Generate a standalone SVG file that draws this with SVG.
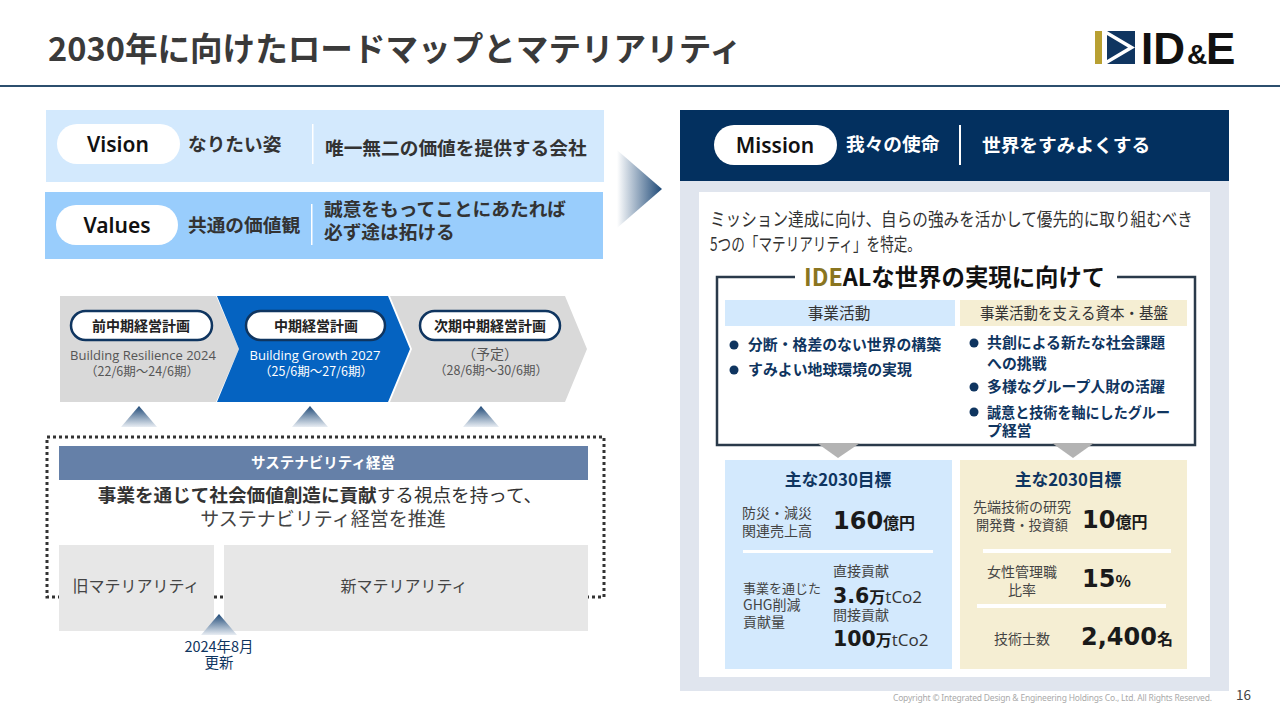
<svg xmlns="http://www.w3.org/2000/svg" width="1280" height="720" viewBox="0 0 1280 720">
<defs>
<linearGradient id="gArrow" x1="0" y1="0" x2="1" y2="0"><stop offset="0" stop-color="#ffffff"/><stop offset="1" stop-color="#1f4a78"/></linearGradient>
<linearGradient id="gUp" x1="0" y1="0" x2="0" y2="1"><stop offset="0" stop-color="#1f4a78"/><stop offset="1" stop-color="#e8edf3"/></linearGradient>
<polygon id="upTri" points="0,0 18,21 -18,21" fill="url(#gUp)"/>
</defs>
<style>
text{font-family:"Noto Sans CJK JP","Noto Sans",sans-serif;fill:#333;}
.lat{font-family:"Open Sans","Noto Sans CJK JP",sans-serif;}
.b{font-weight:700;}
.m{text-anchor:middle;}
.pill{font-family:"Noto Sans","Noto Sans CJK JP",sans-serif;font-weight:600;font-size:21px;fill:#111;text-anchor:middle;}
.h{font-weight:700;font-size:18.700px;}
.chev{font-weight:700;font-size:14px;fill:#222;text-anchor:middle;}
.sub{font-size:12.500px;fill:#555;text-anchor:middle;}
.bul{font-weight:700;font-size:14.900px;fill:#0f3560;}
.num{font-family:"DejaVu Sans","Noto Sans CJK JP",sans-serif;font-weight:700;font-size:24px;fill:#1a1a1a;}
.u{font-family:"Noto Sans CJK JP",sans-serif;font-weight:700;font-size:16px;fill:#1a1a1a;}
.lab{font-size:14px;fill:#444;}
.co{font-family:"Open Sans","Noto Sans CJK JP",sans-serif;font-weight:400;font-size:17px;fill:#333;}
</style>
<rect width="1280" height="720" fill="#fff"/>
<g id="title">
<text class="b" x="48" y="61" font-size="32.600" style="fill:#3a3a3a">2030年に向けたロードマップとマテリアリティ</text>
<rect x="0" y="85" width="1280" height="2" fill="#2c4f6e"/>
</g>
<g id="logo">
<rect x="1095" y="31" width="7" height="33" fill="#b8a032"/>
<rect x="1107" y="31" width="28" height="33" fill="#0f3560"/>
<polygon points="1107,31 1135,47.500 1107,64 1107,60 1128,47.500 1107,35" fill="#fff"/>
<text x="1141" y="64" font-size="44" style="font-family:'Liberation Sans',sans-serif;font-weight:700;fill:#111">ID</text>
<text x="1187" y="64" font-size="28" style="font-family:'Liberation Sans',sans-serif;font-weight:700;fill:#111">&amp;</text>
<text x="1206" y="64" font-size="44" style="font-family:'Liberation Sans',sans-serif;font-weight:700;fill:#111">E</text>
</g>
<g id="vision">
<rect x="46" y="110" width="558" height="72" fill="#d3e9fd"/>
<rect x="57" y="124" width="123" height="40" rx="20" fill="#fff"/>
<text class="pill" x="118" y="152">Vision</text>
<text class="h" x="188" y="151">なりたい姿</text>
<rect x="312" y="124" width="1.500" height="40" fill="#fff"/>
<text class="h" x="325" y="155">唯一無二の価値を提供する会社</text>
</g>
<g id="values">
<rect x="45" y="192" width="558" height="67" fill="#99cdfc"/>
<rect x="56" y="205" width="122" height="40" rx="20" fill="#fff"/>
<text class="pill" x="117" y="233">Values</text>
<text class="h" x="188" y="232">共通の価値観</text>
<rect x="311" y="204" width="1.500" height="41" fill="#fff"/>
<text class="h" x="324" y="216">誠意をもってことにあたれば</text>
<text class="h" x="324" y="239">必ず途は拓ける</text>
</g>
<g id="big-arrow"><polygon points="617,150 662,189 617,228" fill="url(#gArrow)"/></g>
<g id="plan-prev">
<polygon points="60,296 216,296 239,349 216,402 60,402" fill="#d9d9d9"/>
<rect x="71" y="311" width="141" height="29" rx="14.500" fill="#fff" stroke="#0f3560" stroke-width="2.500"/>
<text class="chev" x="141" y="331">前中期経営計画</text>
<text class="sub lat" x="143" y="360" style="font-size:13px">Building Resilience 2024</text>
<text class="sub" x="142" y="376">（22/6期～24/6期）</text>
</g>
<g id="plan-now">
<polygon points="217,296 388,296 410,349 388,402 217,402 239,349" fill="#0563c1"/>
<rect x="246" y="311" width="139" height="29" rx="14.500" fill="#fff" stroke="#0f3560" stroke-width="2.500"/>
<text class="chev" x="316" y="331">中期経営計画</text>
<text class="sub lat" x="315" y="360" style="fill:#fff;font-size:13px">Building Growth 2027</text>
<text class="sub" x="316" y="376" style="fill:#fff">（25/6期～27/6期）</text>
</g>
<g id="plan-next">
<polygon points="390,296 565,296 587,349 565,402 390,402 412,349" fill="#d9d9d9"/>
<rect x="420" y="311" width="140" height="29" rx="14.500" fill="#fff" stroke="#0f3560" stroke-width="2.500"/>
<text class="chev" x="490" y="331">次期中期経営計画</text>
<text class="sub" x="490" y="359" style="font-size:14px">（予定）</text>
<text class="sub" x="491" y="375">（28/6期～30/6期）</text>
</g>
<g id="connectors">
<use href="#upTri" x="139" y="406"/>
<use href="#upTri" x="310" y="406"/>
<use href="#upTri" x="481" y="406"/>
</g>
<g id="sustainability">
<rect x="47" y="437" width="557" height="160" fill="none" stroke="#333" stroke-width="3" stroke-dasharray="3 3"/>
<rect x="59" y="446" width="529" height="34" fill="#6580a8"/>
<text class="m b" x="323" y="468" font-size="14.500" style="fill:#fff">サステナビリティ経営</text>
<text class="m" x="320" y="502" font-size="18.600"><tspan class="b">事業を通じて社会価値創造に貢献</tspan>する視点を持って、</text>
<text class="m" x="323" y="526" font-size="19" style="fill:#444">サステナビリティ経営を推進</text>
<rect x="59" y="545" width="155" height="86" fill="#e7e7e7"/>
<rect x="224" y="545" width="364" height="86" fill="#e7e7e7"/>
<text class="m" x="136" y="592" font-size="16" style="fill:#444">旧マテリアリティ</text>
<text class="m" x="404" y="592" font-size="16" style="fill:#444">新マテリアリティ</text>
<use href="#upTri" x="219" y="614"/>
<text class="m" x="219" y="652" font-size="14.500" style="fill:#0f3560">2024年8月</text>
<text class="m" x="219" y="668" font-size="14.500" style="fill:#0f3560">更新</text>
</g>
<g id="mission">
<rect x="680" y="110" width="549" height="581" fill="#e0e5ee"/>
<rect x="680" y="110" width="549" height="71" fill="#03305f"/>
<rect x="714" y="125" width="123" height="40" rx="20" fill="#fff"/>
<text class="pill" x="775" y="153">Mission</text>
<text class="h" x="846" y="151" style="fill:#fff">我々の使命</text>
<rect x="959" y="125" width="2" height="40" fill="#fff"/>
<text class="h" x="982" y="152" style="fill:#fff">世界をすみよくする</text>
<rect x="699" y="192" width="511" height="485" fill="#fff"/>
<text x="710" y="226" font-size="18.500" textLength="483" lengthAdjust="spacingAndGlyphs" style="fill:#333">ミッション達成に向け、自らの強みを活かして優先的に取り組むべき</text>
<text x="710" y="251" font-size="18.500" textLength="211" lengthAdjust="spacingAndGlyphs" style="fill:#333">5つの「マテリアリティ」を特定。</text>
</g>
<g id="ideal">
<rect x="717" y="277" width="478" height="168" fill="none" stroke="#2a3a4a" stroke-width="2.500"/>
<rect x="795" y="265" width="322" height="24" fill="#fff"/>
<text class="b" x="804" y="286" font-size="23.400" style="fill:#111"><tspan style="fill:#8a7520">IDE</tspan>ALな世界の実現に向けて</text>
<rect x="725" y="300" width="230" height="26" fill="#d3e9fd"/>
<rect x="960" y="300" width="227" height="26" fill="#f5eed3"/>
<text class="m" x="839" y="319" font-size="15.700">事業活動</text>
<text class="m" x="1074" y="319" font-size="15.700" textLength="188" lengthAdjust="spacingAndGlyphs">事業活動を支える資本・基盤</text>
<g fill="#0f3560">
<circle cx="734" cy="345" r="4.500"/><circle cx="734" cy="370" r="4.500"/>
<circle cx="974" cy="343" r="4.500"/><circle cx="974" cy="387" r="4.500"/><circle cx="974" cy="412" r="4.500"/>
</g>
<text class="bul" x="748" y="350" textLength="193" lengthAdjust="spacingAndGlyphs">分断・格差のない世界の構築</text>
<text class="bul" x="748" y="375">すみよい地球環境の実現</text>
<text class="bul" x="987" y="348">共創による新たな社会課題</text>
<text class="bul" x="987" y="369">への挑戦</text>
<text class="bul" x="987" y="392">多様なグループ人財の活躍</text>
<text class="bul" x="987" y="418" textLength="183" lengthAdjust="spacingAndGlyphs">誠意と技術を軸にしたグルー</text>
<text class="bul" x="987" y="436">プ経営</text>
<polygon points="817,443 860,443 838,458" fill="#b3b3b3"/>
<polygon points="1052,443 1094,443 1073,458" fill="#b3b3b3"/>
</g>
<g id="goals-left">
<rect x="725" y="460" width="227" height="209" fill="#d3e9fd"/>
<text class="m b" x="838" y="486" font-size="16.800" style="fill:#0f3560">主な2030目標</text>
<text class="lab" x="742" y="518" textLength="70" lengthAdjust="spacingAndGlyphs">防災・減災</text>
<text class="lab" x="742" y="536">関連売上高</text>
<text class="num" x="833" y="529">160<tspan class="u">億円</tspan></text>
<rect x="743" y="550" width="190" height="3" fill="#fff"/>
<text class="lab" x="743" y="593" style="font-size:13px">事業を通じた</text>
<text class="lab" x="743" y="610">GHG削減</text>
<text class="lab" x="743" y="627">貢献量</text>
<text class="lab" x="833" y="576">直接貢献</text>
<text class="num" x="833" y="603" style="font-size:20.500px">3.6<tspan class="u">万</tspan><tspan class="co">tCo2</tspan></text>
<text class="lab" x="833" y="620">間接貢献</text>
<text class="num" x="833" y="646" style="font-size:20.500px">100<tspan class="u">万</tspan><tspan class="co">tCo2</tspan></text>
</g>
<g id="goals-right">
<rect x="960" y="460" width="227" height="209" fill="#f5eed3"/>
<text class="m b" x="1068" y="486" font-size="16.800" style="fill:#0f3560">主な2030目標</text>
<text class="lab m" x="1022" y="512">先端技術の研究</text>
<text class="lab m" x="1022" y="530" textLength="92" lengthAdjust="spacingAndGlyphs">開発費・投資額</text>
<text class="num" x="1082" y="528">10<tspan class="u">億円</tspan></text>
<rect x="983" y="549" width="188" height="4" fill="#fff"/>
<text class="lab m" x="1022" y="577">女性管理職</text>
<text class="lab m" x="1022" y="595">比率</text>
<text class="num" x="1082" y="587">15<tspan class="u">%</tspan></text>
<rect x="977" y="604" width="189" height="4" fill="#fff"/>
<text class="lab m" x="1022" y="644">技術士数</text>
<text class="num" x="1081" y="645">2,400<tspan class="u">名</tspan></text>
</g>
<g id="footer">
<text x="893" y="701" font-size="8.500" textLength="319" style="fill:#aaa;font-family:'Noto Sans',sans-serif">Copyright © Integrated Design &amp; Engineering Holdings Co., Ltd.  All Rights Reserved.</text>
<text x="1236" y="700" font-size="13.500" style="fill:#444">16</text>
</g>
</svg>
